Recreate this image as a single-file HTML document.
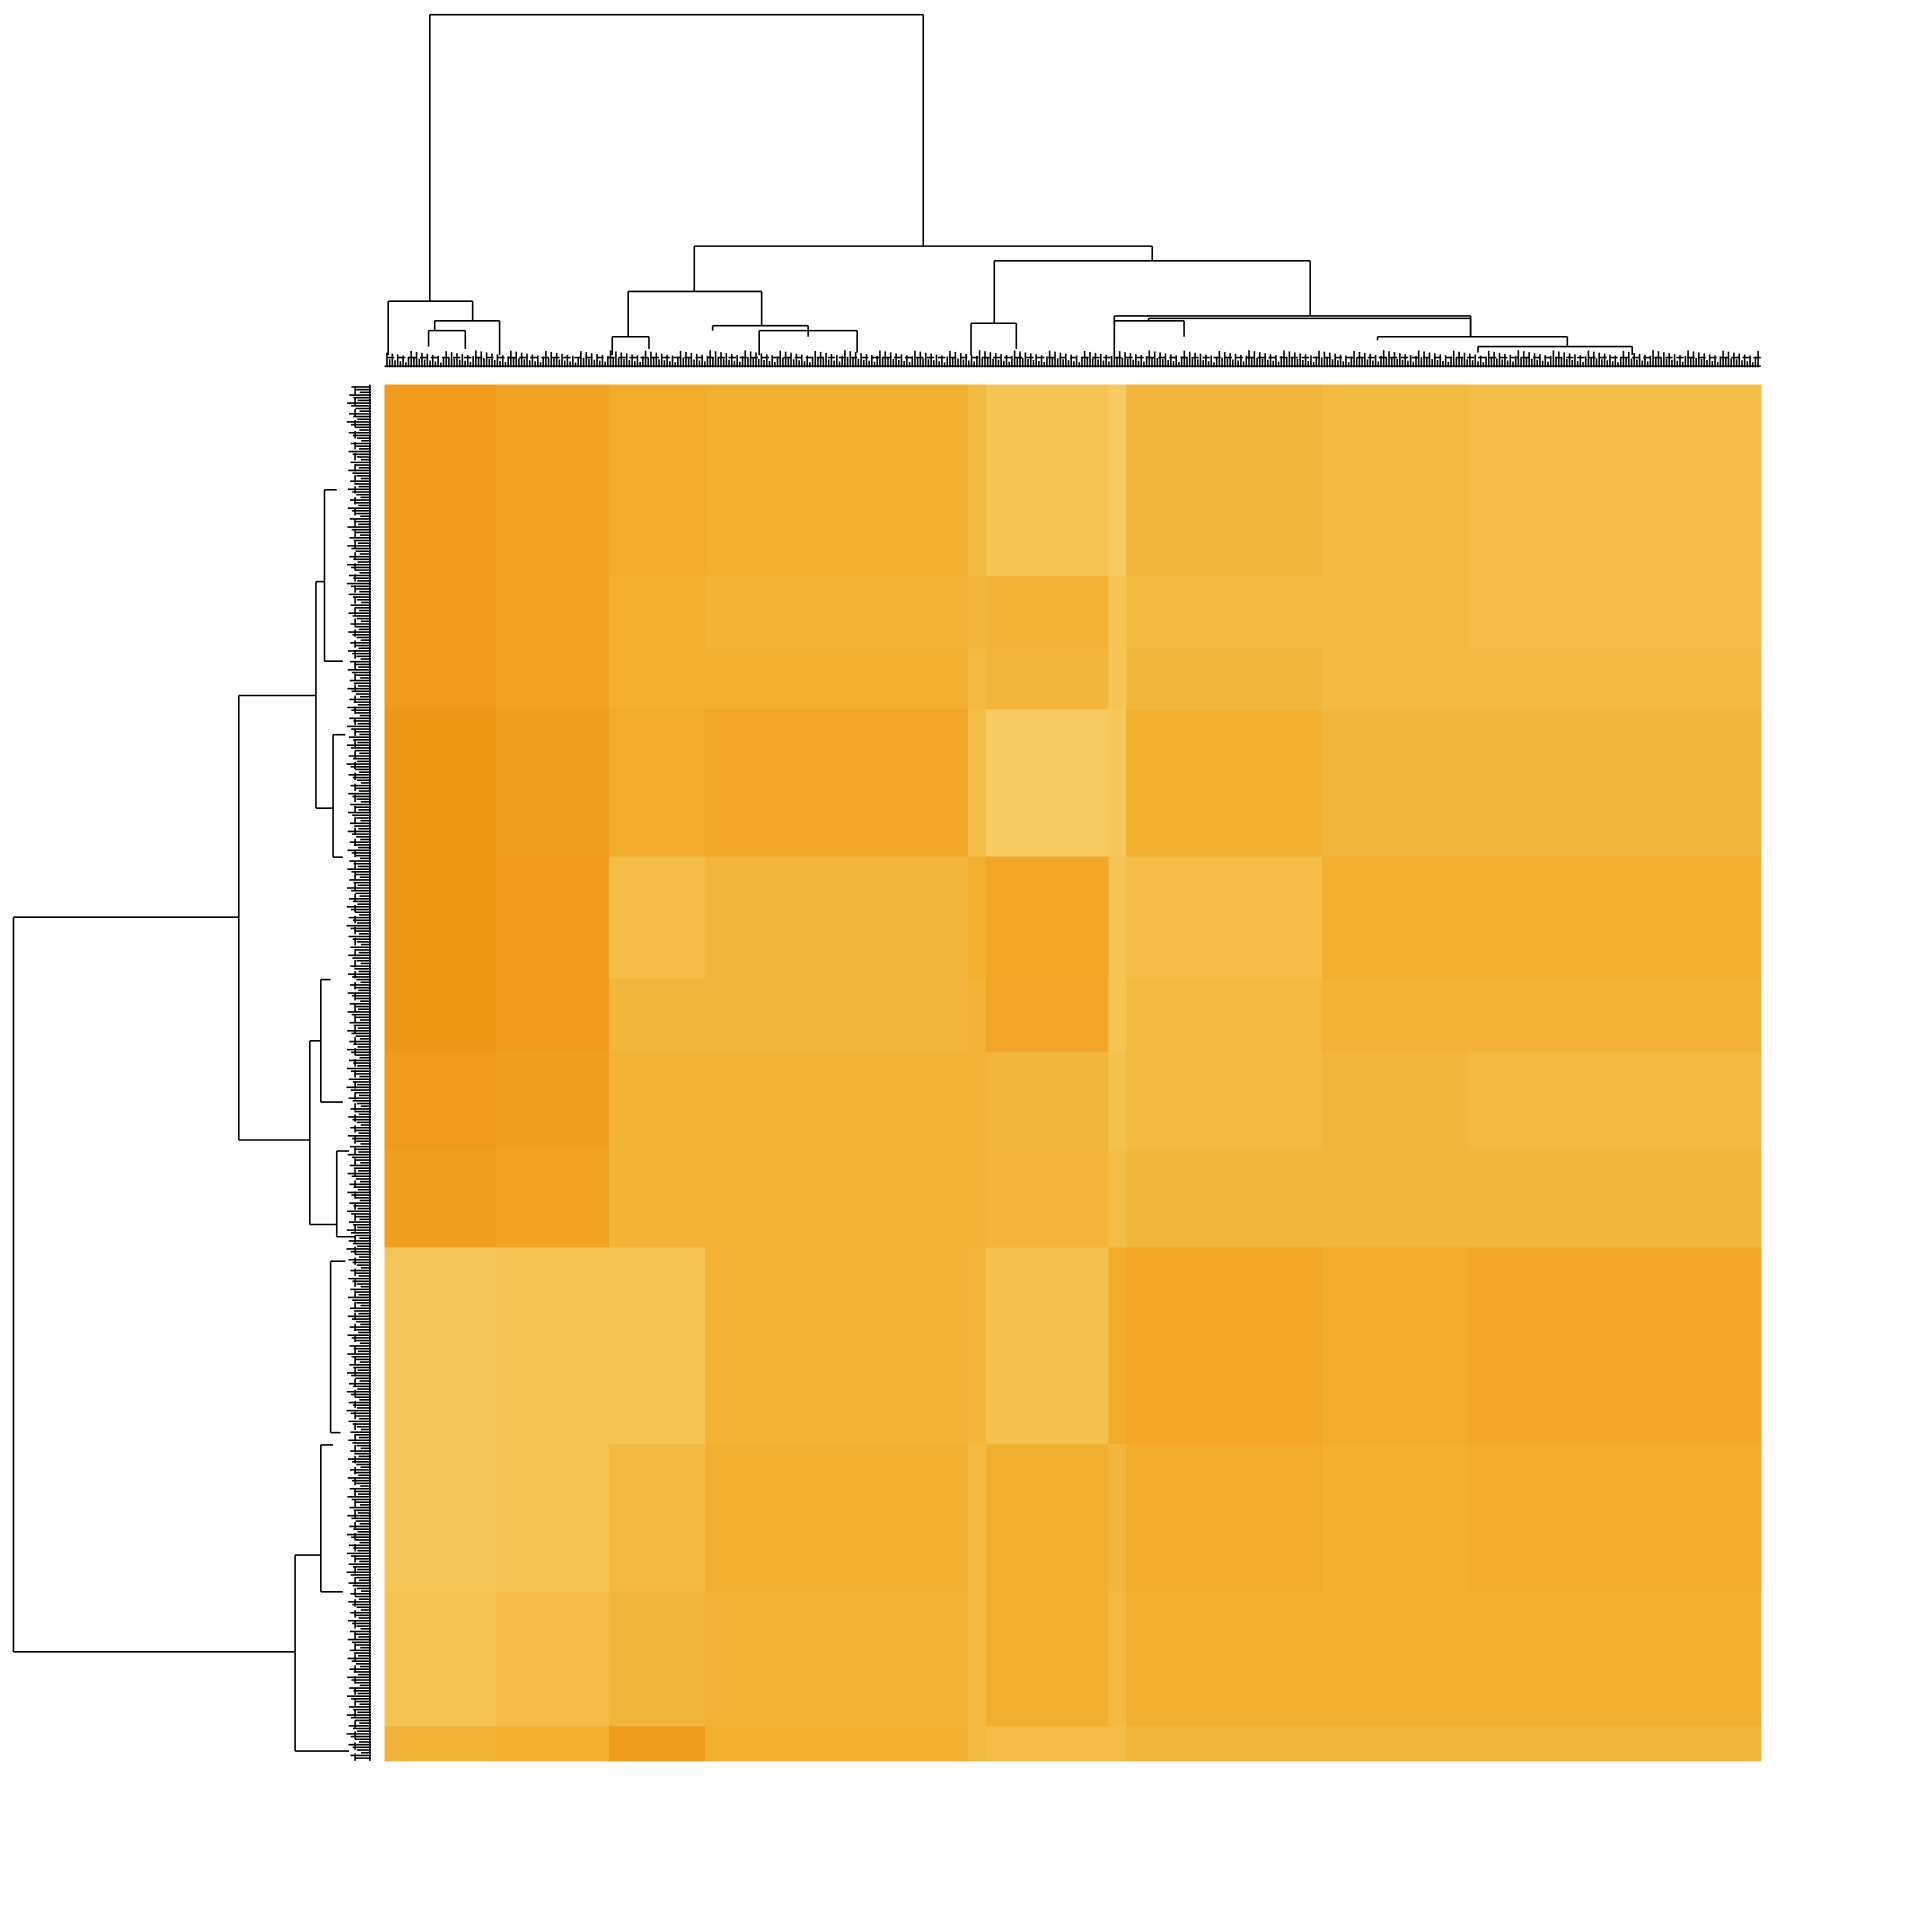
<!DOCTYPE html>
<html><head><meta charset="utf-8"><style>html,body{margin:0;padding:0;background:#fff}svg{display:block}</style></head>
<body>
<svg id="chart" width="1920" height="1920" viewBox="0 0 1568 1568" xmlns="http://www.w3.org/2000/svg">
<g id="hm"></g>
<g id="topd" stroke="#000" stroke-width="1.3" fill="none"></g>
<g id="leftd" stroke="#000" stroke-width="1.3" fill="none"></g>
</svg>
<script>
// column cluster boundaries (fraction of heatmap width 0..1)
const colBreaks = [0, 0.081, 0.163, 0.233, 0.424, 0.437, 0.526, 0.539, 0.681, 0.788, 1];
// row cluster boundaries (fraction of heatmap height 0..1)
const rowBreaks = [0, 0.139, 0.192, 0.236, 0.343, 0.432, 0.485, 0.556, 0.627, 0.770, 0.877, 0.975, 1];
// block intensities (0 light .. 1 dark)
const blockValues = [
 [.78,.68,.55,.5,.35,.2,.1,.4,.35,.3],
 [.78,.68,.5,.45,.4,.45,.2,.35,.35,.3],
 [.78,.68,.5,.5,.35,.4,.2,.4,.35,.35],
 [.82,.72,.55,.6,.3,.1,.15,.5,.4,.4],
 [.82,.78,.3,.4,.5,.62,.2,.3,.5,.5],
 [.82,.78,.4,.4,.45,.6,.2,.35,.45,.45],
 [.78,.72,.45,.45,.45,.4,.25,.35,.4,.35],
 [.72,.68,.45,.45,.45,.42,.3,.4,.4,.4],
 [.15,.2,.2,.45,.4,.25,.55,.62,.55,.6],
 [.15,.2,.35,.5,.35,.5,.4,.55,.5,.55],
 [.2,.3,.4,.45,.35,.5,.35,.5,.5,.5],
 [.45,.5,.75,.5,.35,.3,.3,.4,.4,.4]
];
const X0=314,X1=1438,Y0=314,Y1=1438;
const xs=f=>X0+f*(X1-X0), ys=f=>Y0+f*(Y1-Y0);
function color(v){
  const a=[246,208,108], b=[242,176,48], c=[236,136,8];
  let p,q,t; if(v<0.5){p=a;q=b;t=v/0.5}else{p=b;q=c;t=(v-0.5)/0.5}
  return 'rgb('+p.map((x,i)=>Math.round(x+(q[i]-x)*t)).join(',')+')';
}
const NS='http://www.w3.org/2000/svg';
const hm=document.getElementById('hm');
for(let r=0;r<blockValues.length;r++){for(let c=0;c<blockValues[r].length;c++){
  const el=document.createElementNS(NS,'rect');
  
  
  el.setAttribute('x',xs(colBreaks[c]));el.setAttribute('y',ys(rowBreaks[r]));
  el.setAttribute('width',xs(colBreaks[c+1])-xs(colBreaks[c])+0.5);
  el.setAttribute('height',ys(rowBreaks[r+1])-ys(rowBreaks[r])+0.5);
  el.setAttribute('fill',color(blockValues[r][c]));
  hm.appendChild(el);
}}
// dendrogram links: [xLeft, xRight, joinHeight, leftChildHeight, rightChildHeight]
const topLinks=[[351,754,12,246,201],[317,386,246,290,262],[567,941,201,238,213],[513,622,238,275,266],[812,1070,213,264,258],[793,830,264,290,285],[910,1201,258,278,275],
 [355,408,262,270,290],[500,530,275,290,285],[582,660,266,270,275],[620,700,270,290,288],[938,1201,260,262,275],[1125,1280,275,278,283],[1207,1333,283,288,290],[910,967,262,290,275],[350,380,270,283,285]];
const leftLinks=[[749,1349,11,195,241],[568,931,195,258,253],[1270,1430,241,262,285],[475,660,258,265,272],[850,1000,253,262,275],
 [400,540,265,275,280],[600,700,272,282,280],[800,900,262,270,280],[1180,1300,262,272,280],[1030,1170,270,282,278],[940,1010,275,285,290]];
function line(g,x1,y1,x2,y2,name){const l=document.createElementNS(NS,'line');
  
  
  l.setAttribute('x1',x1);l.setAttribute('y1',y1);l.setAttribute('x2',x2);l.setAttribute('y2',y2);g.appendChild(l);}
const td=document.getElementById('topd'), ld=document.getElementById('leftd');
topLinks.forEach(k=>{line(td,k[0],k[2],k[1],k[2],'dendro-link');line(td,k[0],k[2],k[0],k[3],'dendro-link');line(td,k[1],k[2],k[1],k[4],'dendro-link');});
leftLinks.forEach(k=>{line(ld,k[2],k[0],k[2],k[1],'dendro-link');line(ld,k[2],k[0],k[3],k[0],'dendro-link');line(ld,k[2],k[1],k[4],k[1],'dendro-link');});
// leaf fringe
for(let x=316;x<=1438;x+=2.2){line(td,x,286+((x*7)%10),x,300,'dendro-leaf');}
for(let x=316;x<=1438;x+=9){line(td,x,292,x+6,292,'dendro-leaf');}
line(td,314,299,1438,299,'dendro-fringe');
for(let y=316;y<=1438;y+=2.2){line(ld,283+((y*7)%12),y,303,y,'dendro-leaf');}
for(let y=316;y<=1438;y+=9){line(ld,290,y,290,y+6,'dendro-leaf');}
line(ld,302,314,302,1438,'dendro-fringe');
</script>
</body></html>
